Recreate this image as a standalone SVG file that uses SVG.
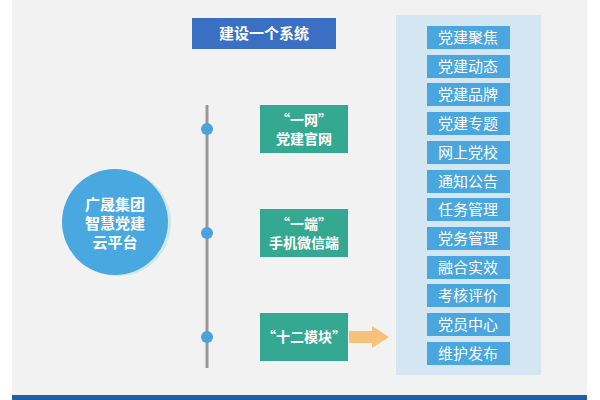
<svg xmlns="http://www.w3.org/2000/svg" width="600" height="400" viewBox="0 0 600 400">
<style>
text{font-family:"Noto Sans CJK SC","Noto Sans",sans-serif;font-weight:bold;fill:#fff;text-anchor:middle}
.g{fill:#35a891}
.it{fill:#4aa6df}
.t{font-size:15px;font-weight:normal}
</style>
<rect width="600" height="400" fill="#fff"/>
<rect x="12" y="0" width="575" height="400" fill="#f2f2f2"/>
<rect x="12" y="395" width="575" height="5" fill="#1f5fa8"/>
<g id="title"><rect x="192" y="18" width="144" height="31" fill="#3a6fc4"/><text x="264" y="39" font-size="15">建设一个系统</text></g>
<g id="center"><circle cx="118" cy="223" r="53" fill="#cfe8e3"/><circle cx="115" cy="222" r="53" fill="#4aa8e0"/>
<text x="115" y="210" font-size="15">广晟集团</text><text x="115" y="229" font-size="15">智慧党建</text><text x="115" y="248" font-size="15">云平台</text></g>
<g id="connectors">
<line x1="207" y1="105" x2="207" y2="368" stroke="#999" stroke-width="3"/>
<circle cx="207" cy="129" r="6" fill="#4aa3e0"/><circle cx="207" cy="233" r="6" fill="#4aa3e0"/><circle cx="207" cy="337" r="6" fill="#4aa3e0"/>
<polygon points="349,331 372,331 372,326 389,337 372,348 372,343 349,343" fill="#f5c27a"/>
</g>
<g id="n1"><rect class="g" x="260" y="105" width="88" height="48"/><text x="304" y="125" font-size="14">“一网”</text><text x="304" y="144" font-size="14">党建官网</text></g>
<g id="n2"><rect class="g" x="260" y="209" width="88" height="48"/><text x="304" y="229" font-size="14">“一端”</text><text x="304" y="248" font-size="14">手机微信端</text></g>
<g id="n3"><rect class="g" x="260" y="313" width="88" height="48"/><text x="304" y="342" font-size="14">“十二模块”</text></g>
<g id="panel"><rect x="396" y="15" width="145" height="360" fill="#d5e6f3"/>
<rect class="it" x="427" y="26" width="83" height="23"/><text class="t" x="468" y="43">党建聚焦</text>
<rect class="it" x="427" y="55" width="83" height="23"/><text class="t" x="468" y="72">党建动态</text>
<rect class="it" x="427" y="83" width="83" height="23"/><text class="t" x="468" y="100">党建品牌</text>
<rect class="it" x="427" y="112" width="83" height="23"/><text class="t" x="468" y="129">党建专题</text>
<rect class="it" x="427" y="141" width="83" height="23"/><text class="t" x="468" y="158">网上党校</text>
<rect class="it" x="427" y="170" width="83" height="23"/><text class="t" x="468" y="187">通知公告</text>
<rect class="it" x="427" y="198" width="83" height="23"/><text class="t" x="468" y="215">任务管理</text>
<rect class="it" x="427" y="227" width="83" height="23"/><text class="t" x="468" y="244">党务管理</text>
<rect class="it" x="427" y="256" width="83" height="23"/><text class="t" x="468" y="273">融合实效</text>
<rect class="it" x="427" y="284" width="83" height="23"/><text class="t" x="468" y="301">考核评价</text>
<rect class="it" x="427" y="313" width="83" height="23"/><text class="t" x="468" y="330">党员中心</text>
<rect class="it" x="427" y="342" width="83" height="23"/><text class="t" x="468" y="359">维护发布</text>
</g>
</svg>
